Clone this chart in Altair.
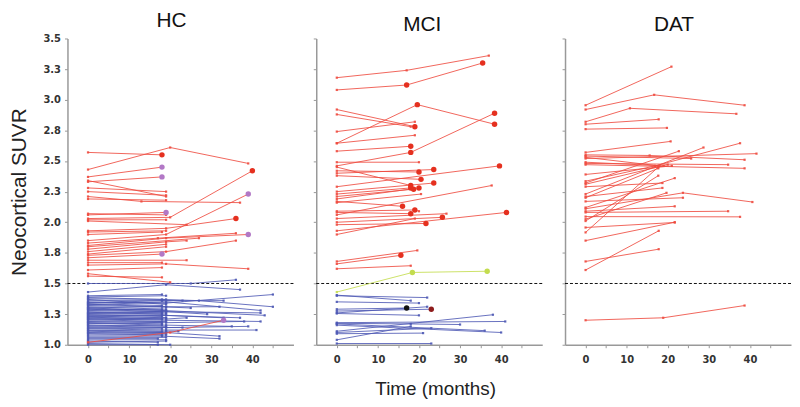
import altair as alt
import pandas as pd

PANELS = ["HC", "MCI", "DAT"]

# Each subject: list of (months, SUVR[, end-marker class])
# marker classes: r = red dot, p = purple dot, g = green dot, k = black dot, d = dark-red dot
HC_BLUE = [
    [(0, 1.50), (25, 1.50), (36, 1.53)],
    [(0, 1.43), (19, 1.49), (37, 1.45)],
    [(0, 1.40), (18, 1.41)],
    [(0, 1.39), (19, 1.40)],
    [(0, 1.385), (18, 1.37), (27, 1.36), (45, 1.31)],
    [(0, 1.375), (19, 1.37)],
    [(0, 1.37), (19, 1.33)],
    [(0, 1.36), (18, 1.36), (33, 1.36)],
    [(0, 1.35), (19, 1.34), (45, 1.41)],
    [(0, 1.345), (19, 1.34)],
    [(0, 1.34), (18, 1.36), (23, 1.36)],
    [(0, 1.335), (18, 1.32)],
    [(0, 1.33), (19, 1.31)],
    [(0, 1.325), (19, 1.35), (42, 1.28)],
    [(0, 1.32), (18, 1.31), (25, 1.30)],
    [(0, 1.31), (19, 1.29)],
    [(0, 1.305), (19, 1.31), (32, 1.31)],
    [(0, 1.30), (18, 1.28), (43, 1.24)],
    [(0, 1.295), (19, 1.28)],
    [(0, 1.29), (18, 1.27)],
    [(0, 1.285), (18, 1.29)],
    [(0, 1.28), (19, 1.27), (29, 1.25)],
    [(0, 1.27), (19, 1.26)],
    [(0, 1.265), (18, 1.25)],
    [(0, 1.26), (19, 1.27), (42, 1.26)],
    [(0, 1.255), (18, 1.26)],
    [(0, 1.25), (19, 1.25)],
    [(0, 1.245), (18, 1.23)],
    [(0, 1.24), (19, 1.24), (33, 1.22)],
    [(0, 1.235), (19, 1.22)],
    [(0, 1.23), (18, 1.24), (37, 1.22)],
    [(0, 1.225), (19, 1.21), (24, 1.22)],
    [(0, 1.22), (18, 1.21)],
    [(0, 1.215), (19, 1.22)],
    [(0, 1.21), (19, 1.20), (42, 1.19)],
    [(0, 1.205), (18, 1.19)],
    [(0, 1.20), (18, 1.21)],
    [(0, 1.19), (19, 1.18), (38, 1.19)],
    [(0, 1.185), (19, 1.19)],
    [(0, 1.18), (18, 1.17)],
    [(0, 1.175), (19, 1.16), (35, 1.15)],
    [(0, 1.17), (18, 1.18)],
    [(0, 1.16), (19, 1.15)],
    [(0, 1.155), (19, 1.14), (23, 1.14)],
    [(0, 1.15), (18, 1.16)],
    [(0, 1.14), (19, 1.14), (39, 1.15)],
    [(0, 1.135), (18, 1.13)],
    [(0, 1.13), (19, 1.12), (41, 1.12)],
    [(0, 1.12), (18, 1.11)],
    [(0, 1.115), (19, 1.11), (22, 1.11)],
    [(0, 1.11), (18, 1.10)],
    [(0, 1.10), (19, 1.09)],
    [(0, 1.095), (19, 1.10), (32, 1.07)],
    [(0, 1.09), (18, 1.08)],
    [(0, 1.08), (19, 1.08)],
    [(0, 1.07), (18, 1.07), (32, 1.05)],
    [(0, 1.06), (19, 1.06)],
    [(0, 1.05), (17, 1.05)],
    [(0, 1.04), (19, 1.04)],
    [(0, 1.03), (17, 1.02)],
    [(0, 1.02), (19, 1.03)],
    [(0, 1.01), (20, 1.00)],
    [(0, 1.00), (17, 1.00)],
]

HC_RED = [
    [(0, 2.57), (18, 2.55, "r")],
    [(0, 2.43), (20, 2.61), (39, 2.48)],
    [(0, 2.37), (18, 2.45, "p")],
    [(0, 2.33), (18, 2.37, "p")],
    [(0, 2.34), (19, 2.21)],
    [(0, 2.28), (19, 2.25)],
    [(0, 2.25), (19, 2.22)],
    [(0, 2.21), (13, 2.17), (37, 2.16)],
    [(0, 2.19), (19, 2.18)],
    [(0, 2.06), (19, 2.08, "p")],
    [(0, 2.03), (20, 2.04), (40, 2.42, "r")],
    [(0, 2.07), (19, 2.06)],
    [(0, 2.02), (19, 2.02)],
    [(0, 2.01), (24, 1.98)],
    [(0, 1.93), (19, 1.95), (36, 2.03, "r")],
    [(0, 1.92), (19, 1.93)],
    [(0, 1.90), (18, 1.92)],
    [(0, 1.85), (19, 1.90), (39, 2.23, "p")],
    [(0, 1.83), (17, 1.87), (36, 1.91)],
    [(0, 1.81), (19, 1.87), (39, 1.90, "p")],
    [(0, 1.80), (27, 1.87)],
    [(0, 1.78), (19, 1.84), (24, 1.85)],
    [(0, 1.76), (19, 1.82)],
    [(0, 1.74), (19, 1.80)],
    [(0, 1.73), (19, 1.76), (36, 1.85)],
    [(0, 1.71), (18, 1.74, "p")],
    [(0, 1.69), (24, 1.69)],
    [(0, 1.67), (18, 1.67)],
    [(0, 1.65), (19, 1.66), (39, 1.62)],
    [(0, 1.61), (18, 1.63)],
    [(0, 1.58), (20, 1.51)],
    [(0, 1.56), (18, 1.55)],
    [(0, 1.02), (20, 1.10), (33, 1.20, "p")],
]

MCI_BLUE = [
    [(0, 1.405), (18, 1.36)],
    [(0, 1.40), (22, 1.385)],
    [(0, 1.35), (20, 1.34)],
    [(0, 1.26), (22, 1.31)],
    [(0, 1.255), (20, 1.24)],
    [(0, 1.18), (41, 1.19)],
    [(0, 1.175), (18, 1.17), (30, 1.165)],
    [(0, 1.17), (36, 1.115)],
    [(0, 1.16), (40, 1.10)],
    [(0, 1.11), (38, 1.245)],
    [(0, 1.10), (23, 1.135)],
    [(0, 1.09), (21, 1.095)],
    [(0, 1.04), (18, 1.15)],
    [(0, 1.01), (23, 1.01)],
]

MCI_DARK = [
    [(0, 1.29), (17, 1.30, "k")],
    [(0, 1.275), (23, 1.29, "d")],
]

MCI_GREEN = [
    [(0, 1.43), (18.4, 1.59, "g"), (36.6, 1.60, "g")],
]

MCI_RED = [
    [(0, 3.18), (17, 3.24), (37, 3.36)],
    [(0, 3.08), (17, 3.12, "r"), (35.5, 3.30, "r")],
    [(0, 2.92), (19, 2.78, "r")],
    [(0, 2.88), (18, 2.78)],
    [(0, 2.74), (19, 2.82)],
    [(0, 2.645), (19.6, 2.96, "r"), (38.4, 2.80, "r")],
    [(0, 2.645), (19, 2.71)],
    [(0, 2.58), (18, 2.62, "r")],
    [(0, 2.46), (18, 2.57, "r"), (38.4, 2.89, "r")],
    [(0, 2.49), (20, 2.49)],
    [(0, 2.45), (18, 2.30, "r")],
    [(0, 2.42), (20, 2.41, "r")],
    [(0, 2.40), (23.6, 2.43, "r")],
    [(0, 2.38), (20.5, 2.35, "r")],
    [(0, 2.25), (23.6, 2.32, "r")],
    [(0, 2.29), (39.6, 2.46, "r")],
    [(0, 2.23), (18, 2.28, "r")],
    [(0, 2.21), (18.7, 2.27, "r")],
    [(0, 2.19), (20, 2.28, "r")],
    [(0, 2.17), (16, 2.13, "r")],
    [(0, 2.16), (20.5, 2.23)],
    [(0, 2.09), (19, 2.10, "r"), (20, 2.09)],
    [(0, 2.08), (18, 2.07, "r")],
    [(0, 2.06), (37.7, 2.30)],
    [(0, 2.03), (26.7, 2.07)],
    [(0, 2.00), (25.7, 2.04, "r")],
    [(0, 1.98), (21.7, 1.99, "r")],
    [(0, 1.93), (41.3, 2.08, "r")],
    [(0, 1.90), (19, 2.03)],
    [(0, 1.68), (19.6, 1.77)],
    [(0, 1.66), (15.6, 1.73, "r")],
    [(0, 1.62), (18, 1.645)],
]

DAT_RED = [
    [(0, 2.955), (20.9, 3.27)],
    [(0, 2.92), (16.7, 3.04), (38.7, 2.955)],
    [(0, 2.82), (10.8, 2.93), (36.7, 2.885)],
    [(0, 2.80), (17.8, 2.84)],
    [(0, 2.76), (19.8, 2.77)],
    [(0, 2.57), (20.7, 2.66)],
    [(0, 2.55), (15.6, 2.545), (38.7, 2.51)],
    [(0, 2.54), (25.7, 2.52)],
    [(0, 2.52), (41.6, 2.56)],
    [(0, 2.53), (18, 2.46)],
    [(0, 2.48), (34.7, 2.47)],
    [(0, 2.47), (38.7, 2.44)],
    [(0, 2.49), (19, 2.46)],
    [(0, 2.39), (21, 2.46)],
    [(0, 2.335), (16.9, 2.46), (37.6, 2.645)],
    [(0, 2.32), (22.7, 2.58)],
    [(0, 2.31), (20, 2.47)],
    [(0, 2.29), (18.7, 2.32)],
    [(0, 2.23), (28.7, 2.61)],
    [(0, 2.21), (18.7, 2.28)],
    [(0, 2.20), (17.7, 2.44)],
    [(0, 2.17), (23.7, 2.20)],
    [(0, 2.12), (21.7, 2.36)],
    [(0, 2.11), (23.7, 2.24), (40.6, 2.165)],
    [(0, 2.09), (21.7, 2.13)],
    [(0, 2.08), (34.7, 2.09)],
    [(0, 2.046), (37.6, 2.044)],
    [(0, 2.025), (19.7, 2.24)],
    [(0, 2.01), (17.7, 2.38)],
    [(0, 1.957), (21.7, 1.998)],
    [(0, 1.917), (17.7, 2.45)],
    [(0, 1.85), (21.7, 2.00)],
    [(0, 1.68), (17.8, 1.78)],
    [(0, 1.61), (17.8, 1.93)],
    [(0, 1.20), (18.9, 1.22), (38.7, 1.32)],
]

THRESHOLD = [1.5]

GROUPS = [
    ("HC", "blue", HC_BLUE),
    ("HC", "red", HC_RED),
    ("MCI", "blue", MCI_BLUE),
    ("MCI", "dark", MCI_DARK),
    ("MCI", "red", MCI_RED),
    ("MCI", "green", MCI_GREEN),
    ("DAT", "red", DAT_RED),
]

LINE_COLORS = {"blue": "#4D58B4", "red": "#EE4A3E", "green": "#C3DC4E", "dark": "#4D58B4"}
DOT_COLORS = {"r": "#E5301F", "p": "#B278C6", "g": "#C3DC4E", "k": "#111111", "d": "#8E1C1C"}
TITLE_DX = {"HC": -9, "MCI": -7, "DAT": -4}

rows = []
for panel, grp, subjects in GROUPS:
    for i, s in enumerate(subjects):
        for p in s:
            mk = p[2] if len(p) > 2 else ""
            rows.append(dict(panel=panel, sid=f"{panel}-{grp}-{i}", grp=grp,
                             t=p[0], v=p[1], lc=LINE_COLORS[grp], mk=mk,
                             dc=DOT_COLORS.get(mk, LINE_COLORS[grp])))
df = pd.DataFrame(rows)

Y_TICKS = [1.0, 1.25, 1.5, 1.75, 2.0, 2.25, 2.5, 2.75, 3.0, 3.25, 3.5]
X_TICKS = [0, 5, 10, 15, 20, 25, 30, 35, 40, 45]
W, H = 228, 309


def make_panel(name, idx):
    d = df[df.panel == name]
    xs = alt.Scale(domain=[-5, 50], nice=False, zero=False)
    ys = alt.Scale(domain=[1.0, 3.5], nice=False, zero=False)
    if idx == 1:
        xaxis = alt.Axis(values=X_TICKS, labelExpr="datum.value % 10 == 0 ? datum.label : ''",
                         title="Time (months)", titlePadding=15, titleX=120,
                         labelPadding=7, labelFlush=False)
    else:
        xaxis = alt.Axis(values=X_TICKS, labelExpr="datum.value % 10 == 0 ? datum.label : ''",
                         title=None, labelPadding=7, labelFlush=False)
    if idx == 0:
        yaxis = alt.Axis(values=Y_TICKS, format=".1f", title="Neocortical SUVR",
                         titlePadding=14, labelPadding=4, titleFontSize=21)
    else:
        yaxis = alt.Axis(values=Y_TICKS, labels=False, title=None)
    X = alt.X("t:Q", scale=xs, axis=xaxis)
    Y = alt.Y("v:Q", scale=ys, axis=yaxis)

    layers = [
        alt.Chart(pd.DataFrame({"v": THRESHOLD})).mark_rule(
            color="#111", strokeWidth=1, strokeDash=[3, 2]
        ).encode(y=Y)
    ]
    for grp in ["blue", "dark", "red", "green"]:
        dd = d[d.grp == grp]
        if len(dd) == 0:
            continue
        layers.append(
            alt.Chart(dd).mark_line(strokeWidth=1, opacity=0.85).encode(
                x=X, y=Y, detail="sid:N", color=alt.Color("lc:N", scale=None)
            )
        )
        layers.append(
            alt.Chart(dd[dd.mk == ""]).mark_point(filled=True, shape="square", size=5, opacity=0.9).encode(
                x=X, y=Y, color=alt.Color("lc:N", scale=None)
            )
        )
    big = d[d.mk != ""]
    layers.append(
        alt.Chart(big).mark_point(filled=True, shape="circle", size=30, opacity=1).encode(
            x=X, y=Y, color=alt.Color("dc:N", scale=None)
        )
    )
    return alt.layer(*layers).properties(
        width=W, height=H,
        title=alt.TitleParams(name, anchor="middle", dx=TITLE_DX[name], offset=3)
    )


chart = alt.hconcat(*[make_panel(n, i) for i, n in enumerate(PANELS)], spacing=18).configure_view(
    stroke=None
).configure_axis(
    grid=False, domainColor="#999999", domainWidth=1.5, tickColor="#999999", tickSize=3,
    labelFont="DejaVu Sans", labelFontWeight="bold", labelFontSize=10, labelColor="#333333",
    titleFont="Liberation Sans", titleFontWeight="normal", titleFontSize=19, titleColor="#222222"
).configure_title(
    font="Liberation Sans", fontSize=21, fontWeight="normal", color="#111111"
).properties(padding={"left": 0, "top": 0, "right": 0, "bottom": 0})

chart.save("out.html", embed_options={"renderer": "svg", "actions": False})
